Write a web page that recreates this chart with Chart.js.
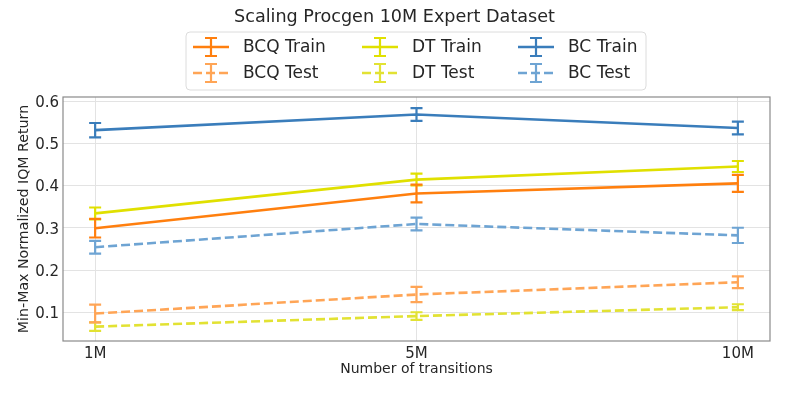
<!DOCTYPE html>
<html>
<head>
<meta charset="utf-8">
<script src="https://cdn.jsdelivr.net/npm/chart.js@4.4.1/dist/chart.umd.min.js"></script>
<style>
	body { margin:0; background:#fff; }
	#wrap { width:789px; height:395px; }
</style>
</head>
<body>
<div id="wrap"><canvas id="chart" width="789" height="395"></canvas></div>

<script>
// data
var xLabels = ['1M', '5M', '10M'];
var yTicks = [0.1, 0.2, 0.3, 0.4, 0.5, 0.6];

var bcqTrain = [0.299, 0.381, 0.405];
var bcqTrainErr = [0.022, 0.021, 0.020];
var dtTrain = [0.334, 0.414, 0.445];
var dtTrainErr = [0.014, 0.014, 0.013];
var bcTrain = [0.531, 0.568, 0.536];
var bcTrainErr = [0.017, 0.015, 0.015];

var bcqTest = [0.097, 0.142, 0.171];
var bcqTestErr = [0.021, 0.018, 0.014];
var dtTest = [0.066, 0.091, 0.112];
var dtTestErr = [0.010, 0.009, 0.007];
var bcTest = [0.254, 0.309, 0.282];
var bcTestErr = [0.015, 0.015, 0.018];

var FONT = 'DejaVu Sans';
var TXT = '#262626';

function pts(arr){
	return arr.map(function(v, i){ return {x: i, y: v}; });
}

function series(label, values, errs, color, dashed){
	return {
		label: label,
		data: pts(values),
		errors: errs,
		borderColor: color,
		backgroundColor: color,
		borderWidth: 2.6,
		borderDash: dashed ? [9, 4] : [],
		pointRadius: 0,
		pointHoverRadius: 0,
		tension: 0,
		fill: false
	};
}

// order: columns of the legend
var datasets = [
	series('BCQ Train', bcqTrain, bcqTrainErr, '#ff7f0e', false),
	series('BCQ Test', bcqTest, bcqTestErr, '#ffa556', true),
	series('DT Train', dtTrain, dtTrainErr, '#e0e000', false),
	series('DT Test', dtTest, dtTestErr, '#e2e233', true),
	series('BC Train', bcTrain, bcTrainErr, '#3a7dbb', false),
	series('BC Test', bcTest, bcTestErr, '#6ea4d3', true)
];

var errorBars = {
	id: 'errorBars',
	afterDatasetDraw: function(chart, args){
		var ds = chart.data.datasets[args.index];
		var xs = chart.scales.x, ys = chart.scales.y;
		var ctx = chart.ctx;
		ctx.save();
		ctx.strokeStyle = ds.borderColor;
		ctx.lineWidth = 2.2;
		ctx.setLineDash([]);
		ds.data.forEach(function(p, i){
			var e = ds.errors[i];
			var px = xs.getPixelForValue(p.x);
			var top = ys.getPixelForValue(p.y + e);
			var bot = ys.getPixelForValue(p.y - e);
			ctx.beginPath();
			ctx.moveTo(px, top); ctx.lineTo(px, bot);
			ctx.moveTo(px - 6, top); ctx.lineTo(px + 6, top);
			ctx.moveTo(px - 6, bot); ctx.lineTo(px + 6, bot);
			ctx.stroke();
		});
		ctx.restore();
	}
};

var frameAndLegend = {
	id: 'frameAndLegend',
	afterDraw: function(chart){
		var ctx = chart.ctx;
		var a = chart.chartArea;
		ctx.save();
		// axes frame
		ctx.strokeStyle = '#8a8a8a';
		ctx.lineWidth = 1.2;
		ctx.strokeRect(a.left, a.top, a.right - a.left, a.bottom - a.top);

		// title, centred on the figure
		ctx.fillStyle = TXT;
		ctx.font = '17.6px "' + FONT + '"';
		ctx.textAlign = 'center';
		ctx.textBaseline = 'middle';
		ctx.fillText('Scaling Procgen 10M Expert Dataset', chart.width / 2, 17);

		// legend box
		var bx = 186, by = 32, bw = 460, bh = 58, r = 4;
		ctx.beginPath();
		ctx.moveTo(bx + r, by);
		ctx.arcTo(bx + bw, by, bx + bw, by + bh, r);
		ctx.arcTo(bx + bw, by + bh, bx, by + bh, r);
		ctx.arcTo(bx, by + bh, bx, by, r);
		ctx.arcTo(bx, by, bx + bw, by, r);
		ctx.closePath();
		ctx.fillStyle = 'rgba(255,255,255,0.85)';
		ctx.fill();
		ctx.strokeStyle = '#dcdcdc';
		ctx.lineWidth = 1;
		ctx.stroke();

		var colX = [193, 362, 518];
		var rowY = [47, 73];
		ctx.font = '17px "' + FONT + '"';
		ctx.textAlign = 'left';
		chart.data.datasets.forEach(function(ds, i){
			var cx = colX[Math.floor(i / 2)];
			var cy = rowY[i % 2];
			ctx.strokeStyle = ds.borderColor;
			ctx.lineWidth = 2.6;
			ctx.setLineDash(ds.borderDash);
			ctx.beginPath();
			ctx.moveTo(cx, cy); ctx.lineTo(cx + 36, cy);
			ctx.stroke();
			ctx.setLineDash([]);
			ctx.lineWidth = 2.2;
			var mx = cx + 18;
			ctx.beginPath();
			ctx.moveTo(mx, cy - 9); ctx.lineTo(mx, cy + 9);
			ctx.moveTo(mx - 6, cy - 9); ctx.lineTo(mx + 6, cy - 9);
			ctx.moveTo(mx - 6, cy + 9); ctx.lineTo(mx + 6, cy + 9);
			ctx.stroke();
			ctx.fillStyle = TXT;
			ctx.fillText(ds.label, cx + 50, cy + 1);
		});
		ctx.restore();
	}
};

var config = {
	type: 'line',
	data: { datasets: datasets },
	options: {
		responsive: false,
		animation: false,
		layout: { padding: { top: 97, right: 19, left: 0, bottom: 0 } },
		plugins: {
			legend: { display: false },
			title: { display: false },
			tooltip: { enabled: false }
		},
		scales: {
			x: {
				type: 'linear',
				min: -0.1,
				max: 2.1,
				afterBuildTicks: function(scale){
					scale.ticks = xLabels.map(function(l, i){ return {value: i}; });
				},
				afterFit: function(scale){ scale.height = 54; },
				ticks: {
					color: TXT,
					font: { family: FONT, size: 15 },
					padding: 4,
					maxRotation: 0,
					callback: function(v){ return xLabels[v]; }
				},
				grid: { color: '#e3e3e3', lineWidth: 1, drawTicks: false },
				border: { display: false },
				title: {
					display: true,
					text: 'Number of transitions',
					color: TXT,
					font: { family: FONT, size: 14 },
					padding: { top: 0, bottom: 17 }
				}
			},
			y: {
				type: 'linear',
				min: 0.032,
				max: 0.6095,
				afterBuildTicks: function(scale){
					scale.ticks = yTicks.map(function(v){ return {value: v}; });
				},
				afterFit: function(scale){ scale.width = 63; },
				ticks: {
					color: TXT,
					font: { family: FONT, size: 15 },
					padding: 4,
					labelOffset: 2,
					callback: function(v){ return v.toFixed(1); }
				},
				grid: { color: '#e3e3e3', lineWidth: 1, drawTicks: false },
				border: { display: false },
				title: {
					display: true,
					text: 'Min-Max Normalized IQM Return',
					color: TXT,
					font: { family: FONT, size: 14.2 },
					padding: { top: 16, bottom: 0 }
				}
			}
		}
	},
	plugins: [errorBars, frameAndLegend]
};

var myChart = new Chart(document.getElementById('chart').getContext('2d'), config);
</script>
</body>
</html>
